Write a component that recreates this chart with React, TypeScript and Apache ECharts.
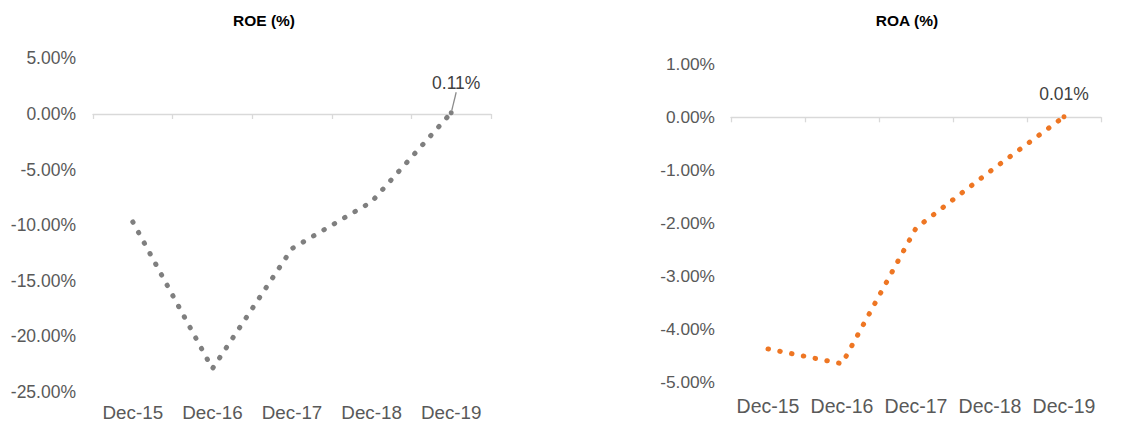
import React, { useEffect, useRef } from "react";
import * as echarts from "echarts";

const categories = ["Dec-15", "Dec-16", "Dec-17", "Dec-18", "Dec-19"];
const roeValues = [-9.7, -22.9, -12.1, -7.9, 0.11];
const roaValues = [-4.37, -4.65, -2.09, -1.02, 0.01];
const roeTitle = "ROE (%)";
const roaTitle = "ROA (%)";

const FONT = "Arial, 'Liberation Sans', sans-serif";
const fmt = (v: number) => v.toFixed(2) + "%";

export default function App() {
  const ref = useRef<HTMLDivElement>(null);
  useEffect(() => {
    if (!ref.current) return;
    const chart = echarts.init(ref.current, undefined, { renderer: "svg" });
    const axisLineX = (gridIndex: number, labelSize: number, margin: number) => [
      {
        type: "category",
        gridIndex,
        data: categories,
        boundaryGap: true,
        axisLine: { show: true, onZero: true, lineStyle: { color: "#D9D9D9", width: 1.3 } },
        axisTick: { show: true, length: 5, alignWithLabel: false, lineStyle: { color: "#D9D9D9", width: 1.3 } },
        axisLabel: { show: false },
        splitLine: { show: false },
      },
      {
        type: "category",
        gridIndex,
        data: categories,
        position: "bottom",
        boundaryGap: true,
        axisLine: { show: false, onZero: false },
        axisTick: { show: false },
        axisLabel: { show: true, color: "#595959", fontSize: labelSize, fontFamily: FONT, margin, interval: 0 },
        splitLine: { show: false },
      },
    ];
    const mkData = (vals: number[], withLine: boolean, color: string) =>
      vals.map((v, i) =>
        i === vals.length - 1
          ? {
              value: v,
              symbol: "circle",
              symbolSize: 5,
              itemStyle: { color },
              label: {
                show: true,
                position: "top",
                distance: withLine ? 5 : 11,
                formatter: (p: any) => fmt(p.value),
                color: "#404040",
                fontSize: 17.5,
                fontFamily: FONT,
              },
            }
          : { value: v, symbol: "none" }
      );
    chart.setOption({
      animation: false,
      grid: [
        { left: 93, right: 647, top: 58.4, bottom: 31 },
        { left: 731, right: 37, top: 64.3, bottom: 40.7 },
      ],
      xAxis: [...axisLineX(0, 18.8, 11), ...axisLineX(1, 19.5, 14)],
      yAxis: [
        {
          type: "value",
          gridIndex: 0,
          min: -25,
          max: 5,
          interval: 5,
          axisLine: { show: false },
          axisTick: { show: false },
          splitLine: { show: false },
          axisLabel: { color: "#595959", fontSize: 17.5, fontFamily: FONT, margin: 17, formatter: fmt },
        },
        {
          type: "value",
          gridIndex: 1,
          min: -5,
          max: 1,
          interval: 1,
          axisLine: { show: false },
          axisTick: { show: false },
          splitLine: { show: false },
          axisLabel: { color: "#595959", fontSize: 17.3, fontFamily: FONT, margin: 16, formatter: fmt },
        },
      ],
      graphic: [
        {
          type: "text",
          x: 264,
          y: 20.5,
          style: { text: roeTitle, textAlign: "center", textVerticalAlign: "middle", font: `bold 15.5px ${FONT}`, fill: "#000" },
        },
        {
          type: "text",
          x: 907,
          y: 20.5,
          style: { text: roaTitle, textAlign: "center", textVerticalAlign: "middle", font: `bold 15.5px ${FONT}`, fill: "#000" },
        },
      ],
      series: [
        {
          type: "line",
          xAxisIndex: 0,
          yAxisIndex: 0,
          data: mkData(roeValues, true, "#7F7F7F"),
          showSymbol: true,
          symbol: "none",
          lineStyle: { color: "#7F7F7F", width: 5, type: [0.5, 11.5], cap: "round" },
          labelLine: { show: true, lineStyle: { color: "#8C8C8C", width: 1.3 } },
          labelLayout: { dx: 5, dy: -13 },
          emphasis: { disabled: true },
        },
        {
          type: "line",
          xAxisIndex: 2,
          yAxisIndex: 1,
          data: mkData(roaValues, false, "#EE7623"),
          showSymbol: true,
          symbol: "none",
          lineStyle: { color: "#EE7623", width: 5, type: [0.5, 11.5], cap: "round" },
          emphasis: { disabled: true },
        },
      ],
    });
    return () => chart.dispose();
  }, []);
  return (
    <div
      ref={ref}
      style={{ position: "fixed", left: 0, top: 0, width: 1138, height: 423, background: "#fff" }}
    />
  );
}
